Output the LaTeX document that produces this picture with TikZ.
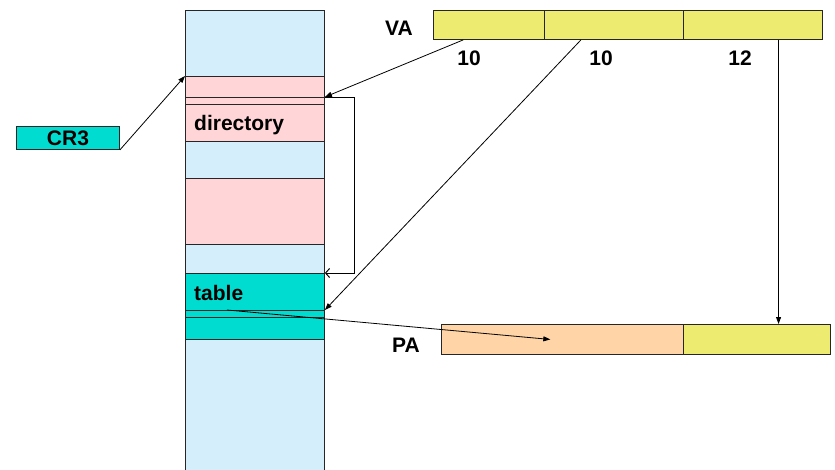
\documentclass[tikz,border=0pt]{standalone}
\usepackage{fontspec}
\setmainfont{Liberation Sans}
\usetikzlibrary{arrows.meta,calc}
\definecolor{memblue}{HTML}{D4EEFC}
\definecolor{dirpink}{HTML}{FFD5D8}
\definecolor{tabcyan}{HTML}{00DDD0}
\definecolor{fieldyel}{HTML}{EEEC70}
\definecolor{peach}{HTML}{FFD5A8}
\begin{document}
\begin{tikzpicture}[x=1pt,y=-1pt,
  box/.style={draw=black!85,line width=0.9pt,inner sep=0pt,anchor=north west},
  lbl/.style={font=\fontsize{21}{24}\selectfont\bfseries,inner sep=0pt},
  ptr/.style={line width=0.8pt,-{Triangle[length=7pt,width=5pt]}},
  link/.style={line width=0.8pt,-{Straight Barb[length=4pt,width=9pt,line width=1pt]}}]
\useasboundingbox (0,0) rectangle (835,470);

% physical memory column
\node[box,fill=memblue,minimum width=139pt,minimum height=470pt] (mem) at (185,10) {};

% page directory and its entry
\node[box,fill=dirpink,minimum width=139pt,minimum height=65pt] (dir) at (185,76) {};
\node[box,fill=dirpink,minimum width=139pt,minimum height=7pt] (dirent) at (185,97) {};
\node[lbl,anchor=base west] (dirtxt) at (194,131) {directory};

% another directory-sized frame
\node[box,fill=dirpink,minimum width=139pt,minimum height=66pt] (frame) at (185,178) {};

% page table and its entry
\node[box,fill=tabcyan,minimum width=139pt,minimum height=66pt] (tab) at (185,273) {};
\node[box,fill=tabcyan,minimum width=139pt,minimum height=7pt] (tabent) at (185,310) {};
\node[lbl,anchor=base west] (tabtxt) at (194,301) {table};

% CR3 register
\node[box,fill=tabcyan,minimum width=103pt,minimum height=23pt] (cr3) at (16,126) {};
\node[lbl] (cr3txt) at (cr3.center) {CR3};

% virtual address fields
\node[box,fill=fieldyel,minimum width=111pt,minimum height=29pt] (va1) at (433,10) {};
\node[box,fill=fieldyel,minimum width=139pt,minimum height=29pt] (va2) at (544,10) {};
\node[box,fill=fieldyel,minimum width=139pt,minimum height=29pt] (va3) at (683,10) {};
\node[lbl] (valbl) at (399,28) {VA};
\node[lbl] (n1) at (469,58) {10};
\node[lbl] (n2) at (601,58) {10};
\node[lbl] (n3) at (740,58) {12};

% physical address fields
\node[box,fill=peach,minimum width=242pt,minimum height=30pt] (pa1) at (441,324) {};
\node[box,fill=fieldyel,minimum width=147pt,minimum height=30pt] (pa2) at (683,324) {};
\node[lbl] (palbl) at (406,345) {PA};

% connectors
\draw[ptr] (cr3.south east) -- (dir.north west);
\draw[ptr] ($(va1.south west)!0.27!(va1.south east)$) -- (dirent.north east);
\draw[ptr] ($(va2.south west)!0.264!(va2.south east)$) -- (tabent.north east);
\coordinate (off) at ($(va3.south west)!0.683!(va3.south east)$);
\draw[ptr] (off) -- (off |- pa2.north);
\draw[link] (dirent.north east) -- ++(29,0) |- (tab.north east);
\draw[ptr] ($(tabent.north west)!0.3!(tabent.north east)$) -- ($(pa1.west)!0.45!(pa1.east)$);
\end{tikzpicture}
\end{document}
